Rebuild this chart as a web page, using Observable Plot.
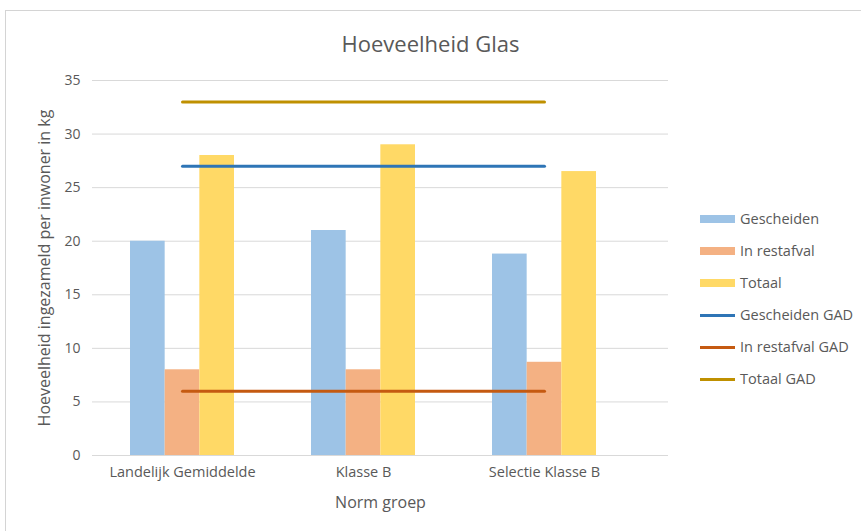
<!DOCTYPE html>
<html>
<head>
<meta charset="utf-8">
<script src="https://cdn.jsdelivr.net/npm/d3@7"></script>
<script src="https://cdn.jsdelivr.net/npm/@observablehq/plot@0.6"></script>
<style>
  html, body { margin: 0; padding: 0; background: #fff; }
  #wrap { position: relative; width: 861px; height: 531px; overflow: hidden; font-family: "Open Sans", sans-serif; color: #595959; }
  #border { position: absolute; left: 5px; top: 10px; width: 880px; height: 560px; border: 1px solid #d4d4d4; box-sizing: border-box; }
  #title { position: absolute; left: 0; width: 861px; top: 28px; line-height: 30px; text-align: center; font-size: 22px; color: #595959; }
  #chart { position: absolute; left: 0; top: 60px; }
  #legend { position: absolute; left: 700px; top: 208px; font-size: 14.5px; }
  .item { position: relative; height: 32px; line-height: 22px; white-space: nowrap; }
  .sw { position: absolute; left: 0; width: 35px; }
  .lab { position: absolute; left: 40px; top: 0; }
</style>
</head>
<body>
<div id="wrap">
  <div id="border"></div>
  <div id="title">Hoeveelheid Glas</div>
  <div id="chart"></div>
  <div id="legend"></div>
</div>
<script>
const categories = ["Landelijk Gemiddelde", "Klasse B", "Selectie Klasse B"];
const barSeries = ["Gescheiden", "In restafval", "Totaal"];
const gescheiden = [20, 21, 18.8];
const inRestafval = [8, 8, 8.7];
const totaal = [28, 29, 26.5];
const lineSeries = ["Gescheiden GAD", "In restafval GAD", "Totaal GAD"];
const gescheidenGAD = [27, 27, 27];
const inRestafvalGAD = [6, 6, 6];
const totaalGAD = [33, 33, 33];
const yTicks = [0, 5, 10, 15, 20, 25, 30, 35];

const barColors = ["#9dc3e6", "#f4b183", "#ffd966"];
const lineColors = ["#2e75b6", "#c55a11", "#bf9000"];

const barValues = [gescheiden, inRestafval, totaal];
const lineValues = [gescheidenGAD, inRestafvalGAD, totaalGAD];

const bars = barValues.map((vals, s) => categories.map((c, i) => ({cat: c, series: barSeries[s], value: vals[i]})));
const lines = lineValues.map((vals, s) => categories.map((c, i) => ({cat: c, series: lineSeries[s], value: vals[i]})));

const bw = 104, third = bw / 3;
const insets = [[0, 2 * third], [third, third], [2 * third, 0]];

const plot = Plot.plot({
  width: 690,
  height: 471,
  marginTop: 20,
  marginBottom: 76,
  marginLeft: 92,
  marginRight: 22,
  style: {fontFamily: "Open Sans, sans-serif", fontSize: "14px", color: "#595959", background: "transparent"},
  x: {type: "band", domain: categories, range: [91.5, 634.5], paddingInner: 0.425, paddingOuter: 0.2125,
      label: "Norm groep", labelAnchor: "center", labelOffset: 52, tickSize: 0, tickPadding: 11},
  y: {domain: [0, 35], ticks: yTicks, tickSize: 0, tickPadding: 12, labelArrow: false,
      label: "Hoeveelheid ingezameld per inwoner in kg", labelAnchor: "center", labelOffset: 54},
  marks: [
    Plot.ruleY(yTicks, {stroke: "#d9d9d9", strokeWidth: 1}),
    ...bars.map((d, s) => Plot.barY(d, {x: "cat", y: "value", fill: barColors[s],
      insetLeft: insets[s][0], insetRight: insets[s][1]})),
    ...lines.map((d, s) => Plot.lineY(d, {x: "cat", y: "value", stroke: lineColors[s], strokeWidth: 3}))
  ]
});
const svg = d3.select(plot);
svg.selectAll("[aria-label='x-axis tick label'] text").style("font-size", "14.5px");
svg.selectAll("[aria-label='y-axis label'] text").style("font-size", "16px").each(function() {
  this.textContent = this.textContent.replace(/[↑→←↓]/g, "").trim();
});
svg.selectAll("[aria-label='x-axis label'] text").style("font-size", "16px").each(function() {
  this.textContent = this.textContent.replace(/[↑→←↓]/g, "").trim();
});
document.getElementById("chart").appendChild(plot);

const legend = document.getElementById("legend");
barSeries.forEach((name, s) => {
  const it = document.createElement("div"); it.className = "item";
  it.innerHTML = `<div class="sw" style="top:7px;height:8px;background:${barColors[s]}"></div><div class="lab">${name}</div>`;
  legend.appendChild(it);
});
lineSeries.forEach((name, s) => {
  const it = document.createElement("div"); it.className = "item";
  it.innerHTML = `<div class="sw" style="top:10px;height:3px;background:${lineColors[s]}"></div><div class="lab">${name}</div>`;
  legend.appendChild(it);
});
</script>
</body>
</html>
